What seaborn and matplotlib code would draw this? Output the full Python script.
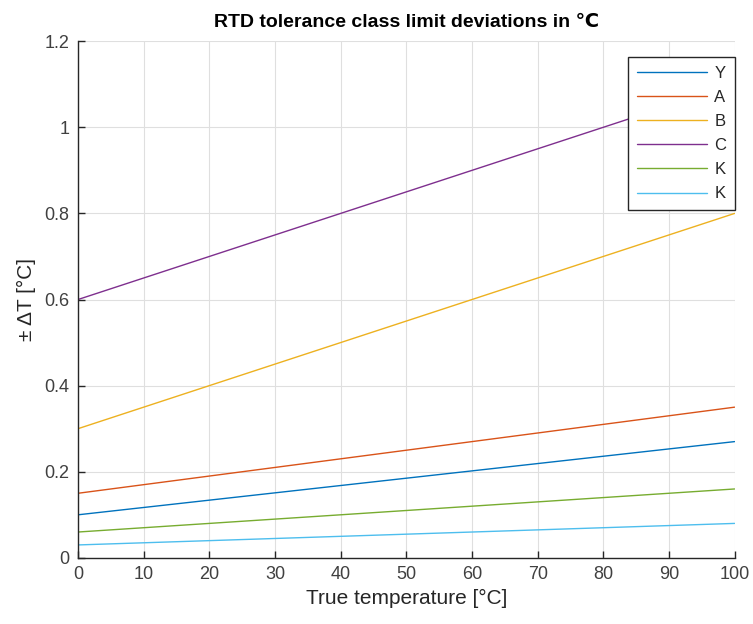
import matplotlib
matplotlib.use("Agg")
import matplotlib.pyplot as plt
import seaborn as sns
import pandas as pd

# Tolerance class limit deviations (±°C) at 0, 50 and 100 °C
temperature = [0, 50, 100]
class_names = ["Y", "A", "B", "C", "K", "K"]
dev_Y = [0.10, 0.185, 0.27]
dev_A = [0.15, 0.25, 0.35]
dev_B = [0.30, 0.55, 0.80]
dev_C = [0.60, 0.85, 1.10]
dev_K1 = [0.06, 0.11, 0.16]
dev_K2 = [0.03, 0.055, 0.08]
series = [dev_Y, dev_A, dev_B, dev_C, dev_K1, dev_K2]
colors = ["#0072BD", "#D95319", "#EDB120", "#7E2F8E", "#77AC30", "#4DBEEE"]

x_ticks = list(range(0, 101, 10))
y_ticks = [0, 0.2, 0.4, 0.6, 0.8, 1.0, 1.2]
y_tick_labels = ["0", "0.2", "0.4", "0.6", "0.8", "1", "1.2"]

sns.set_theme(style="whitegrid")
plt.rcParams["font.family"] = ["Liberation Sans", "DejaVu Sans"]

fig = plt.figure(figsize=(7.53, 6.24), dpi=100)
ax = fig.add_axes([0.1036, 0.106, 0.872, 0.828])

for i, (name, vals) in enumerate(zip(class_names, series)):
    df = pd.DataFrame({"t": temperature, "dev": vals})
    sns.lineplot(data=df, x="t", y="dev", ax=ax, color=colors[i],
                 label=name, linewidth=1.0)

ax.set_xlim(0, 100)
ax.set_ylim(0, 1.2)
ax.set_xticks(x_ticks)
ax.set_yticks(y_ticks)
ax.set_yticklabels(y_tick_labels)
ax.tick_params(axis="both", direction="in", length=5, width=1,
               bottom=True, left=True, top=False, right=False,
               colors="#262626", labelsize=13, labelcolor="#404040", pad=6)
ax.grid(True, color="#dfdfdf", linewidth=0.8)
ax.set_facecolor("white")
for side in ["top", "right"]:
    ax.spines[side].set_visible(False)
for side in ["left", "bottom"]:
    ax.spines[side].set_visible(True)
    ax.spines[side].set_color("#262626")
    ax.spines[side].set_linewidth(1.0)

ax.set_xlabel("True temperature [°C]", fontsize=15, color="#262626", labelpad=4)
ax.set_ylabel("± ΔT [°C]", fontsize=15, color="#262626", labelpad=6)
ax.set_title("RTD tolerance class limit deviations in ℃", fontsize=14,
             fontweight="bold", color="black", pad=10)

leg = ax.legend(loc="upper right", bbox_to_anchor=(1.0, 0.969), borderaxespad=0,
                fontsize=12, frameon=True, fancybox=False, borderpad=0.5,
                labelspacing=0.55, handlelength=4.2, handletextpad=0.45)
leg.get_frame().set_edgecolor("#262626")
leg.get_frame().set_linewidth(1.0)
leg.get_frame().set_alpha(1.0)
for txt in leg.get_texts():
    txt.set_color("#262626")

fig.savefig("out.png", dpi=100, facecolor="white")
